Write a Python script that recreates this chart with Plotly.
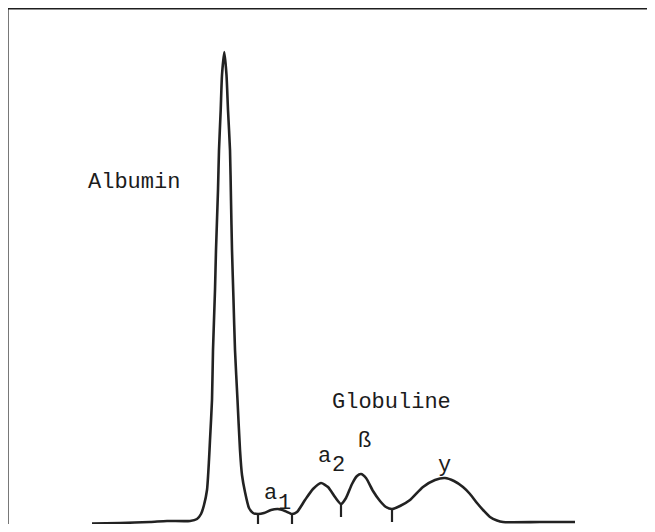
import plotly.graph_objects as go

# Densitometer scan of serum protein electrophoresis
# migration position (arbitrary units) and optical density (arbitrary units)
position = [92, 120, 150, 167, 190, 197, 201, 204, 207, 209, 210, 212, 213, 215, 216, 218, 219,
            220.7, 222, 224.3, 226.5, 228, 230, 231, 232, 233.5, 235, 237.5, 240, 242, 245, 249,
            253, 258, 264, 271, 278, 285, 292, 297, 305, 313, 321, 328, 335, 341, 346, 352, 357,
            361, 366, 373, 380, 386, 392, 400, 410, 423, 435, 445, 454, 463, 470, 477, 484, 490,
            497, 503, 540, 575]
density = [8.5, 9, 10, 11, 11, 13, 18, 27, 42, 72, 92, 132, 182, 242, 282, 342, 382,
           422, 457, 480, 457, 422, 382, 332, 282, 232, 182, 132, 82, 57, 40, 24,
           19, 18, 19, 22, 23, 21, 18, 20, 32, 43, 49, 45, 35, 28, 34, 48, 56,
           58, 54, 41, 31, 25, 23, 26, 32, 45, 52, 54, 51, 45, 38, 29, 21, 15,
           11.5, 10, 10, 10]

# fraction boundaries (valleys) and the density there
boundary_pos = [258, 292, 341, 392]
boundary_density = [18, 18, 28, 23]
tick_depth = 13

fig = go.Figure()
fig.add_trace(go.Scatter(x=position, y=density, mode="lines",
                         line=dict(color="#222222", width=2.6, shape="spline", smoothing=0.6),
                         hoverinfo="skip", cliponaxis=False))

tx, ty = [], []
for bx, by in zip(boundary_pos, boundary_density):
    tx += [bx, bx, None]
    ty += [by, by - tick_depth, None]
fig.add_trace(go.Scatter(x=tx, y=ty, mode="lines",
                         line=dict(color="#222222", width=2.2), hoverinfo="skip"))

font = dict(family="Courier New, Liberation Mono, monospace", size=22, color="#1c1c1c")
labels = [
    ("Albumin", 134, 350),
    ("Globuline", 391, 130),
    ("a", 324, 76),
    ("2", 338, 67),
    ("ß", 364, 91),
    ("y", 444, 67),
    ("a", 270, 39),
    ("1", 284, 29),
]
for t, x, y in labels:
    fig.add_annotation(x=x, y=y, text=t, showarrow=False, font=font,
                       xanchor="center", yanchor="middle")

# scanned frame: only its top and left edges fall inside the picture
fig.add_shape(type="line", xref="x", yref="y", x0=6.4, x1=660, y0=523.5, y1=523.5,
              line=dict(color="#1e1e1e", width=2.2))
fig.add_shape(type="line", xref="x", yref="y", x0=7.5, x1=7.5, y0=0, y1=524.6,
              line=dict(color="#1e1e1e", width=2.2))

# the page body adds an 8px margin on every side; the figure is sized so the page
# does not overflow the window, and the axis windows map straight to window pixels
fig.update_layout(
    width=639, height=516,
    margin=dict(l=0, r=0, t=0, b=0),
    paper_bgcolor="white", plot_bgcolor="white",
    showlegend=False,
    xaxis=dict(range=[8, 647], visible=False, fixedrange=True),
    yaxis=dict(range=[8, 524], visible=False, fixedrange=True),
)

fig.write_html("out.html")
